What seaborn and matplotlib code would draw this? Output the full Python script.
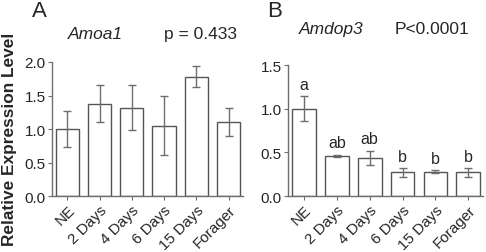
import numpy as np
import pandas as pd
import seaborn as sns
import matplotlib.pyplot as plt

# data
groups = ['NE', '2 Days', '4 Days', '6 Days', '15 Days', 'Forager']
amoa1_mean = [1.00, 1.38, 1.32, 1.05, 1.78, 1.10]
amoa1_err = [0.27, 0.27, 0.33, 0.44, 0.16, 0.21]
amdop3_mean = [1.00, 0.46, 0.44, 0.27, 0.28, 0.27]
amdop3_err = [0.14, 0.015, 0.08, 0.055, 0.02, 0.05]
amdop3_letters = ['a', 'ab', 'ab', 'b', 'b', 'b']

sns.set_style('ticks')
plt.rcParams['font.family'] = ['Liberation Sans', 'DejaVu Sans']

fig = plt.figure(figsize=(4.86, 2.53), dpi=100)
ax_a = fig.add_axes([0.107, 0.221, 0.393, 0.530])
ax_b = fig.add_axes([0.593, 0.221, 0.401, 0.518])

grey = '#6e6e6e'


def panel(ax, mean, err, ymax, step):
    df = pd.DataFrame({'group': groups, 'value': mean})
    sns.barplot(data=df, x='group', y='value', ax=ax, color='white',
                edgecolor='#555555', linewidth=1.0, width=0.72, errorbar=None)
    ax.errorbar(np.arange(len(groups)), mean, yerr=err, fmt='none',
                ecolor=grey, elinewidth=1.0, capsize=3, capthick=1.0)
    ax.set_xlim(-0.48, 5.45)
    ax.set_ylim(0, ymax)
    ax.set_yticks(np.arange(0, ymax + 0.01, step))
    ax.yaxis.set_major_formatter(plt.FormatStrFormatter('%.1f'))
    ax.set_xlabel('')
    ax.set_ylabel('')
    ax.set_xticks(range(len(groups)))
    ax.set_xticklabels(groups, rotation=45, ha='right', rotation_mode='anchor')
    ax.tick_params(axis='both', labelsize=11, length=3, color=grey, pad=1.5)
    for s in ['top', 'right']:
        ax.spines[s].set_visible(False)
    for s in ['left', 'bottom']:
        ax.spines[s].set_color(grey)
        ax.spines[s].set_linewidth(1.0)


panel(ax_a, amoa1_mean, amoa1_err, 2.0, 0.5)
panel(ax_b, amdop3_mean, amdop3_err, 1.5, 0.5)

for i, (m, e, lab) in enumerate(zip(amdop3_mean, amdop3_err, amdop3_letters)):
    ax_b.annotate(lab, (i, m + e), xytext=(0, 3), textcoords='offset points',
                  ha='center', va='bottom', fontsize=11.5)

fig.text(0.066, 0.995, 'A', fontsize=16, va='top', ha='left')
fig.text(0.549, 0.995, 'B', fontsize=16, va='top', ha='left')
fig.text(0.140, 0.862, 'Amoa1', fontsize=12.5, style='italic', va='center')
fig.text(0.338, 0.862, 'p = 0.433', fontsize=12.5, va='center')
fig.text(0.615, 0.882, 'Amdop3', fontsize=12.5, style='italic', va='center')
fig.text(0.812, 0.882, 'P<0.0001', fontsize=12.5, va='center')
fig.text(0.019, 0.45, 'Relative Expression Level', fontsize=12.4, fontweight='bold',
         rotation=90, ha='center', va='center')

fig.savefig('out.png', dpi=100)
